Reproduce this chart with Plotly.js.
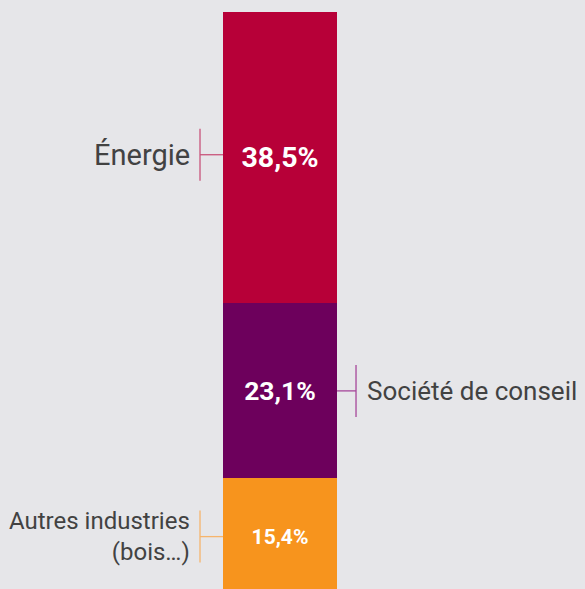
<!DOCTYPE html>
<html>
<head>
<meta charset="utf-8">
<script src="https://cdn.plot.ly/plotly-3.0.1.min.js"></script>
<style>
html,body{margin:0;padding:0;background:#e6e6e9;}
#chart{width:585px;height:589px;}
</style>
</head>
<body>
<div id="chart"></div>
<script>
// Data (stacked bottom to top)
const categories = ['Autres industries<br>(bois…)', 'Société de conseil', 'Énergie'];
const values = [15.4, 23.1, 38.5];
const barColors = ['#f7941d', '#6d005c', '#b70038'];
const lineColors = ['#f6b46c', '#a6479a', '#c9547a'];
const labelSides = ['left', 'right', 'left'];
const valueFontSizes = [21, 26.5, 28.5];
const nameFontSizes = [24, 26, 29];

const traces = [];
const annotations = [];
const shapes = [];
let cum = 0;
values.forEach((v, i) => {
  traces.push({
    type: 'bar',
    x: ['s'],
    y: [v],
    width: 1,
    marker: {color: barColors[i], line: {width: 0}},
    texttemplate: '%{y:.1f}%',
    textposition: 'inside',
    insidetextanchor: 'middle',
    textangle: 0,
    textfont: {family: 'Roboto, sans-serif', size: valueFontSizes[i], color: '#ffffff', weight: 'bold'},
    hoverinfo: 'skip',
    showlegend: false
  });
  const mid = cum + v / 2;
  cum += v;
  const left = labelSides[i] === 'left';
  const edge = left ? -0.5 : 0.5;
  const off = left ? -23 : 19;
  shapes.push({
    type: 'line', xref: 'x', yref: 'y', xsizemode: 'pixel', ysizemode: 'pixel',
    xanchor: edge, yanchor: mid,
    x0: off, x1: 0, y0: i === 2 ? 3 : 0, y1: i === 2 ? 3 : 0,
    line: {color: lineColors[i], width: 1.3}
  });
  shapes.push({
    type: 'line', xref: 'x', yref: 'y', xsizemode: 'pixel', ysizemode: 'pixel',
    xanchor: edge, yanchor: mid,
    x0: off, x1: off, y0: i === 2 ? -23 : -26, y1: i === 2 ? 29 : 26,
    line: {color: lineColors[i], width: 1.3}
  });
  annotations.push({
    xref: 'x', yref: 'y', x: edge, y: mid,
    text: categories[i],
    showarrow: false,
    xanchor: left ? 'right' : 'left',
    yanchor: 'middle',
    align: left ? 'right' : 'left',
    xshift: left ? -31 : 28,
    yshift: i === 2 ? 3 : 0,
    font: {family: 'Roboto, sans-serif', size: nameFontSizes[i], color: '#424242'}
  });
});

const layout = {
  width: 585, height: 589,
  margin: {l: 0, r: 0, t: 12, b: 0, pad: 0},
  paper_bgcolor: '#e6e6e9',
  plot_bgcolor: '#e6e6e9',
  barmode: 'stack',
  separators: ', ',
  xaxis: {range: [-2.456, 2.675], visible: false, fixedrange: true},
  yaxis: {range: [0.78, 77], visible: false, fixedrange: true},
  shapes: shapes,
  annotations: annotations,
  uniformtext: {mode: false}
};

Plotly.newPlot('chart', traces, layout, {displayModeBar: false, staticPlot: true});
</script>
</body>
</html>
